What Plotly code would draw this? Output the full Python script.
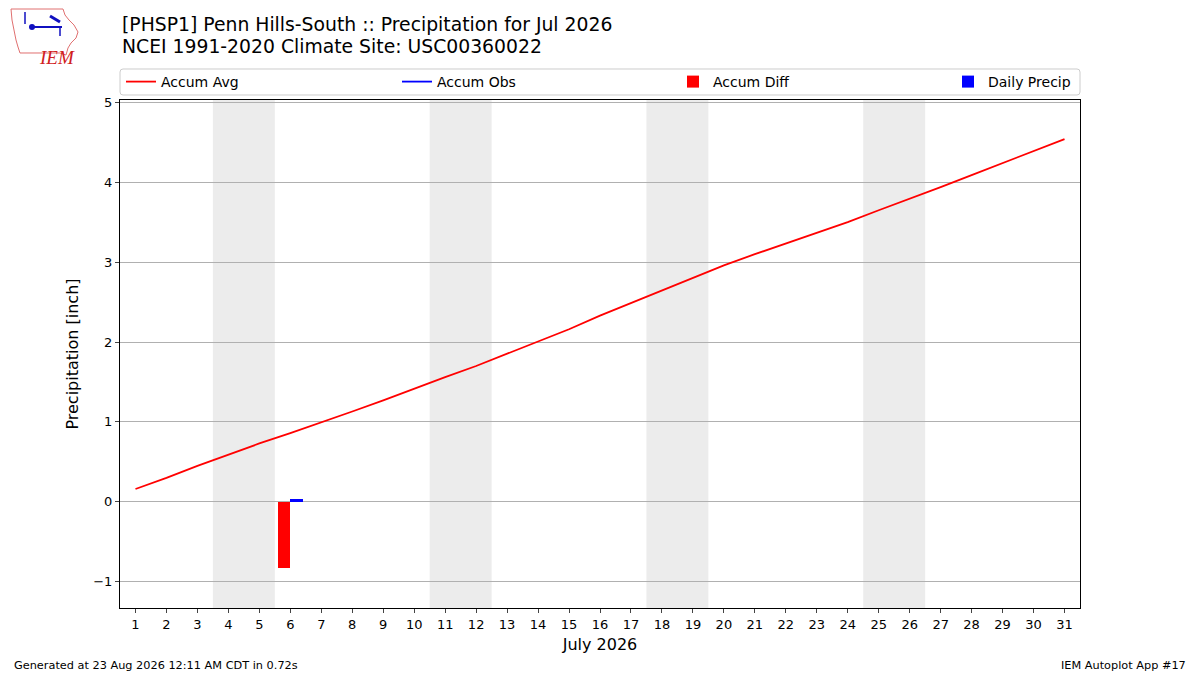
import datetime
import plotly.graph_objects as go

# data
days = list(range(1, 32))
accum_avg = [0.16, 0.30, 0.45, 0.59, 0.73, 0.86, 0.99, 1.13, 1.27, 1.42,
             1.56, 1.70, 1.85, 2.00, 2.16, 2.33, 2.49, 2.65, 2.81, 2.96,
             3.10, 3.23, 3.36, 3.50, 3.65, 3.79, 3.94, 4.09, 4.24, 4.39, 4.54]
obs_days = [6]
accum_obs = [0.03]
accum_diff = [-0.83]
daily_precip = [0.03]
yticks = [-1, 0, 1, 2, 3, 4, 5]

FONT = "DejaVu Sans"


def px(x, y):
    # pixel position on the page -> paper coords (plot area 120..1080 x 100..608)
    return (x - 120) / 960, (608 - y) / 508


fig = go.Figure()
fig.add_trace(go.Scatter(x=days, y=accum_avg, mode="lines", name="Accum Avg",
                         line=dict(color="red", width=1.8), legend="legend"))
fig.add_trace(go.Scatter(x=obs_days, y=accum_obs, mode="lines", name="Accum Obs",
                         line=dict(color="blue", width=1.8), legend="legend2"))
fig.add_trace(go.Bar(x=obs_days, y=accum_diff, name="Accum Diff", marker_color="red",
                     marker_line_width=0, width=0.4, offset=-0.4, legend="legend3"))
fig.add_trace(go.Bar(x=obs_days, y=daily_precip, name="Daily Precip", marker_color="blue",
                     marker_line_width=0, width=0.4, offset=0, legend="legend4"))

# weekend shading
for d in days:
    if datetime.date(2026, 7, d).weekday() == 5:
        fig.add_vrect(x0=d - 0.5, x1=d + 1.5, fillcolor="#ececec", line_width=0,
                      layer="below")

# one legend box per entry so the entries spread across the frame
legend_y = px(0, 82)[1]
legends = {}
for key, left in [("legend", 121), ("legend2", 397), ("legend3", 673), ("legend4", 948)]:
    legends[key] = dict(orientation="h", x=px(left, 0)[0], y=legend_y, xanchor="left",
                        yanchor="middle", borderwidth=0, bgcolor="rgba(0,0,0,0)",
                        font=dict(size=14), itemwidth=30)

fig.update_layout(
    width=1200, height=675,
    margin=dict(l=120, r=120, t=100, b=67),
    plot_bgcolor="white", paper_bgcolor="white",
    font=dict(family=FONT, size=13, color="black"),
    barmode="overlay", bargap=0,
    showlegend=True,
    **legends,
)
fig.update_xaxes(range=[0.5, 31.5], tickmode="array", tickvals=days,
                 ticks="outside", ticklen=4, showgrid=False, zeroline=False,
                 showline=True, linecolor="black", linewidth=1, mirror=True,
                 title=dict(text="July 2026", font=dict(size=16), standoff=8),
                 tickfont=dict(size=13))
fig.update_yaxes(range=[-1.33, 5.03], tickmode="array", tickvals=yticks,
                 ticks="outside", ticklen=4, showgrid=True, gridcolor="#b0b0b0",
                 gridwidth=1, zeroline=False,
                 showline=True, linecolor="black", linewidth=1, mirror=True,
                 title=dict(text="Precipitation [inch]", font=dict(size=16), standoff=10),
                 tickfont=dict(size=13))

# legend frame with rounded corners
lx0, ly0 = px(120, 69)
lx1, ly1 = px(1080, 95)
rx, ry = 3 / 960, 3 / 508
frame = ("M %f,%f L %f,%f Q %f,%f %f,%f L %f,%f Q %f,%f %f,%f "
         "L %f,%f Q %f,%f %f,%f L %f,%f Q %f,%f %f,%f Z") % (
    lx0 + rx, ly0, lx1 - rx, ly0, lx1, ly0, lx1, ly0 - ry,
    lx1, ly1 + ry, lx1, ly1, lx1 - rx, ly1,
    lx0 + rx, ly1, lx0, ly1, lx0, ly1 + ry,
    lx0, ly0 - ry, lx0, ly0, lx0 + rx, ly0)
fig.add_shape(type="path", path=frame, xref="paper", yref="paper",
              line=dict(color="#cccccc", width=1), fillcolor="rgba(255,255,255,0.8)")

# titles
tx, ty = px(120, 24)
fig.add_annotation(text="[PHSP1] Penn Hills-South :: Precipitation for Jul 2026",
                   xref="paper", yref="paper", x=tx, y=ty,
                   xanchor="left", yanchor="middle", showarrow=False,
                   font=dict(size=18.8))
tx, ty = px(120, 47)
fig.add_annotation(text="NCEI 1991-2020 Climate Site: USC00360022",
                   xref="paper", yref="paper", x=tx, y=ty,
                   xanchor="left", yanchor="middle", showarrow=False,
                   font=dict(size=18.8))

# footer
fx, fy = px(12, 665)
fig.add_annotation(text="Generated at 23 Aug 2026 12:11 AM CDT in 0.72s",
                   xref="paper", yref="paper", x=fx, y=fy,
                   xanchor="left", yanchor="middle", showarrow=False,
                   font=dict(size=11.3))
fx, fy = px(1188, 665)
fig.add_annotation(text="IEM Autoplot App #17",
                   xref="paper", yref="paper", x=fx, y=fy,
                   xanchor="right", yanchor="middle", showarrow=False,
                   font=dict(size=11.3))

# logo (rough sketch of the IEM mark)
outline = [(11, 9), (63, 9), (65, 15), (69, 20), (74, 25), (78, 32), (76, 38),
           (71, 43), (68, 48), (66, 55), (60, 53), (20, 53), (18, 47), (16, 40),
           (14, 30), (12, 20)]
path = "M " + " L ".join("%.5f,%.5f" % px(x, y) for x, y in outline) + " Z"
fig.add_shape(type="path", path=path, xref="paper", yref="paper",
              line=dict(color="#e07070", width=1), fillcolor="rgba(0,0,0,0)")
for (a, b), (c, e), w in [((30, 27), (62, 27), 2), ((50, 16), (60, 22), 3),
                          ((25, 12), (25, 24), 1.5), ((60, 27), (60, 36), 1.5)]:
    x0, y0 = px(a, b)
    x1, y1 = px(c, e)
    fig.add_shape(type="line", x0=x0, y0=y0, x1=x1, y1=y1, xref="paper", yref="paper",
                  line=dict(color="#1010c0", width=w))
cx, cy = px(32, 27)
fig.add_shape(type="circle", x0=cx - 3 / 960, y0=cy - 3 / 508, x1=cx + 3 / 960,
              y1=cy + 3 / 508, xref="paper", yref="paper",
              fillcolor="#1010c0", line_width=0)
lx, ly = px(37, 45)
fig.add_annotation(text="<i>IEM</i>", xref="paper", yref="paper", x=lx, y=ly,
                   showarrow=False, font=dict(family="Liberation Serif", size=19,
                                              color="#d02020"))

fig.write_html("out.html", config={"displayModeBar": False},
               post_script="document.body.style.margin='0';")
